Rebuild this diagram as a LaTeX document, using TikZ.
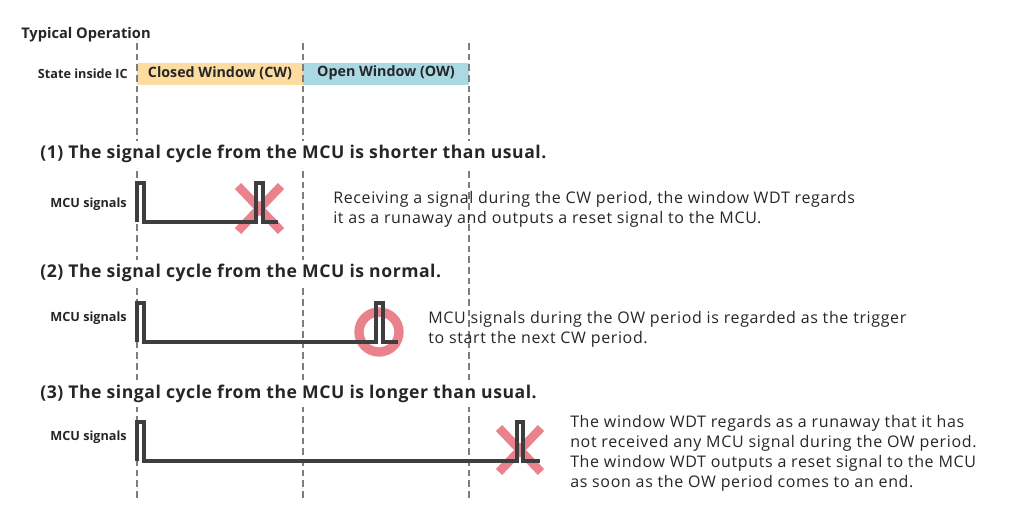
\documentclass[tikz,border=0pt]{standalone}
\usepackage{fontspec}
\setmainfont{Open Sans}
\usetikzlibrary{positioning}

\definecolor{cwfill}{RGB}{253,220,162}
\definecolor{owfill}{RGB}{170,217,227}
\definecolor{sigline}{RGB}{62,62,62}
\definecolor{markred}{RGB}{233,130,140}
\definecolor{guide}{RGB}{125,125,125}
\definecolor{txt}{RGB}{38,38,38}

\tikzset{
  heading/.style={anchor=west, fill=white, inner sep=3pt, text=txt,
    font=\bfseries\fontsize{13.2}{15}\selectfont\addfontfeature{LetterSpace=3}},
  sidelabel/.style={anchor=east, inner sep=0pt, text=txt,
    font=\bfseries\fontsize{9.5}{11}\selectfont},
  bandtext/.style={inner sep=0pt, text=txt, font=\bfseries\fontsize{10.7}{12}\selectfont},
  note/.style={anchor=west, align=left, inner sep=0pt, text=txt,
    font=\fontsize{12}{15}\selectfont\addfontfeature{LetterSpace=4}},
  wave/.style={sigline, line width=2.3pt, line join=miter},
  guideline/.style={guide, line width=1.2pt, dash pattern=on 5pt off 3pt},
  crossmark/.style={markred, line width=6.5pt},
  ringmark/.style={markred, line width=7pt},
}

\begin{document}
\begin{tikzpicture}[x=0.75pt, y=-0.75pt]
\useasboundingbox (0,0) rectangle (1024,512);

% State inside the IC
\node[anchor=west, inner sep=0pt, text=txt, font=\bfseries\fontsize{11}{12}\selectfont] (title) at (21,35) {Typical Operation};
\fill[cwfill] (137,63) rectangle (303,85);
\fill[owfill] (303,63) rectangle (469,85);
\node[bandtext] (cw) at (220,73) {Closed Window (CW)};
\node[bandtext] (ow) at (386,73) {Open Window (OW)};
\node[sidelabel] (state) at (128,74) {State inside IC};

% Window boundaries
\foreach \x/\name in {137/ta, 303/tb, 469/tc} {
    \coordinate (\name top) at (\x,43);
    \coordinate (\name bot) at (\x,500);
    \draw[guideline] (\name top) -- (\name bot);
}

% Cases
\node[heading] (case1) at (36,154) {(1) The signal cycle from the MCU is shorter than usual.};
\node[heading] (case2) at (36,273) {(2) The signal cycle from the MCU is normal.};
\node[heading] (case3) at (36,394) {(3) The singal cycle from the MCU is longer than usual.};

\foreach \y/\name in {204/sig1, 318/sig2, 437/sig3} {
    \node[sidelabel] (\name) at (127,\y) {MCU signals};
}

% (1) early trigger -> reset
\draw[crossmark] (238,186) -- (281,231) (238,231) -- (281,186);
\draw[wave] (137,222) |- (144,183) |- (256,222) |- (263,183) |- (278,222);
\node[note] (note1) at (333,209) {Receiving a signal during the CW period, the window WDT regards\\it as a runaway and outputs a reset signal to the MCU.};

% (2) trigger in open window
\draw[ringmark] (379,332) circle (20);
\draw[wave] (137,342) |- (144,303) |- (376,342) |- (383,303) |- (398,342);
\node[note] (note2) at (428,329) {MCU signals during the OW period is regarded as the trigger\\to start the next CW period.};

% (3) no trigger -> reset
\draw[crossmark] (499,428) -- (541,472) (499,472) -- (541,428);
\draw[wave] (137,461) |- (144,422) |- (517,461) |- (523,422) |- (540,461);
\node[note] (note3) at (570,453) {The window WDT regards as a runaway that it has\\not received any MCU signal during the OW period.\\The window WDT outputs a reset signal to the MCU\\as soon as the OW period comes to an end.};

\end{tikzpicture}
\end{document}
